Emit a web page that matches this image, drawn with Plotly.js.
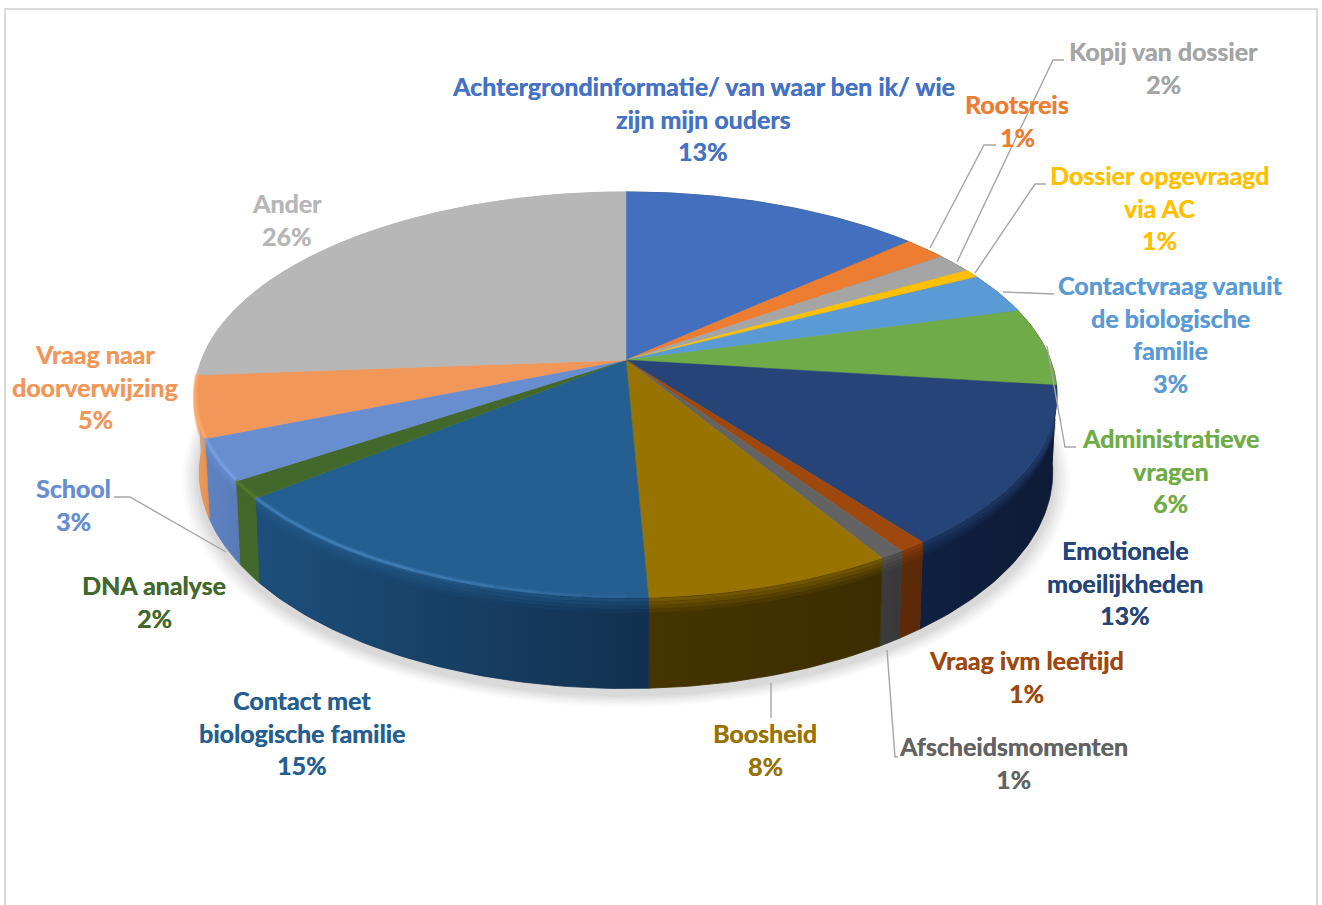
<!DOCTYPE html>
<html>
<head>
<meta charset="utf-8">
<script src="https://cdn.plot.ly/plotly-3.0.1.min.js"></script>
<style>html,body{margin:0;padding:0;background:#fff;overflow:hidden}#chart{width:1322px;height:905px}</style>
</head>
<body>
<div id="chart"></div>
<script>
// ---- data ----
const categories = ["Achtergrondinformatie/ van waar ben ik/ wie<br>zijn mijn ouders","Rootsreis","Kopij van dossier","Dossier opgevraagd<br>via AC","Contactvraag vanuit<br>de biologische<br>familie","Administratieve<br>vragen","Emotionele<br>moeilijkheden","Vraag ivm leeftijd","Afscheidsmomenten","Boosheid","Contact met<br>biologische familie","DNA analyse","School","Vraag naar<br>doorverwijzing","Ander"];
const printedPercent = [13,1,2,1,3,6,13,1,1,8,15,2,3,5,26];
const sliceShare = [13.3,1.9,1.6,0.7,3.3,6.2,12.7,0.9,0.8,7.9,14.9,1.4,3.3,4.9,26.2];
// ---- styles ----
const topColors = ["#4270bf","#ed7d31","#a5a5a5","#ffc000","#5b9bd5","#6fab46","#264478","#9e480e","#636363","#997300","#255e91","#43682b","#698ed0","#f1975a","#b7b7b7"];
const textColors = ["#4472c4","#ed7d31","#a5a5a5","#ffc000","#5b9bd5","#70ad47","#264478","#9e480e","#636363","#997300","#255e91","#43682b","#698ed0","#f1975a","#b7b7b7"];
const sideLeft = ["#2c4b80","#9e5320","#6e6e6e","#aa8000","#3d6a90","#4a7530","#0f2042","#5e2a07","#3c3c3c","#463500","#1c4f7c","#43682b","#5f82c2","#f0a266","#b0b0b0"];
const sideRight = ["#2c4b80","#9e5320","#6e6e6e","#aa8000","#3d6a90","#3a5c26","#0e1b35","#5a2807","#383838","#3c2d00","#12304f","#43682b","#587bb8","#e28e50","#b0b0b0"];
const rimGlow = ["#5a86d0","#f59a55","#c0c0c0","#ffd040","#7ab0e0","#8bc060","#3a5a95","#b85a18","#787878","#a87f00","#4a8ac5","#55802f","#7ca5e8","#ffae6e","#cccccc"];
const labelX = [703,1017,1163,1159,1170,1170,1125,1026,1013,765,302,154,73,95,287];
const labelTopY = [86,104,51,175,285,438,550,660,746,733,700,585,488,354,203];
const lineGap = 32.6;
const leaders = [[[930,248],[984,145],[996,145]],[[957,262],[1053,60],[1064,60]],[[975,273],[1035,184],[1046,184]],[[1003,292],[1054,294]],[[1047,346],[1065,447],[1076,447]],[[226,552],[130,497],[114,497]],[[771,683],[771,718]],[[887,650],[895,757],[898,757]]];

// ---- tilted-disc projection onto the pixel-like axes ----
const CX=626,CY=360,R=424.6,H=197,K=0.172,D=75;
function proj(deg,depth,scale){
  const a=deg*Math.PI/180,u=Math.sin(a)*(scale||1),v=-Math.cos(a)*(scale||1),w=1-K*v;
  const s=depth>12?0.99:1;
  return [CX+R*s*u/w, CY+(H*v+(depth||0))/w];
}
const total=sliceShare.reduce((a,b)=>a+b,0);
const bounds=[0];sliceShare.forEach(v=>bounds.push(bounds[bounds.length-1]+v/total*360));
function arc(a0,a1,depth,scale){
  const n=Math.max(2,Math.ceil(Math.abs(a1-a0))),p=[];
  for(let i=0;i<=n;i++)p.push(proj(a0+(a1-a0)*i/n,depth,scale));
  return p;
}
const base={type:'scatter',mode:'lines',hoverinfo:'skip',showlegend:false};
function poly(pts,extra){return Object.assign({},base,{x:pts.map(p=>p[0]),y:pts.map(p=>p[1]),fill:'toself',line:{width:0}},extra);}
function path(pts,color,width,opacity){return Object.assign({},base,{x:pts.map(p=>p[0]),y:pts.map(p=>p[1]),opacity:opacity,line:{color:color,width:width}});}

const traces=[];
// soft drop shadow
[[1.04,.014],[1.034,.018],[1.028,.022],[1.021,.026],[1.014,.03],[1.007,.035]].forEach(s=>{
  traces.push(poly(arc(0,360,D+5,s[0]),{fillcolor:'rgba(0,0,0,'+s[1]+')'}));
});
// side wall
categories.forEach((c,i)=>{
  const pts=arc(bounds[i],bounds[i+1],0).concat(arc(bounds[i+1],bounds[i],D));
  pts.push(pts[0]);
  traces.push(poly(pts,{name:c,fillcolor:sideLeft[i],line:{width:0.8,color:sideRight[i]},
    fillgradient:{type:'horizontal',colorscale:[[0,sideLeft[i]],[1,sideRight[i]]]}}));
});
// soft band where the wall meets the top
categories.forEach((c,i)=>{
  const a0=Math.max(bounds[i],106),a1=Math.min(bounds[i+1],268);
  if(a1<=a0)return;
  [[2,.55],[5,.4],[8,.25],[11,.12]].forEach(b=>traces.push(path(arc(a0,a1,b[0]),topColors[i],3.4,b[1])));
});
// top face
categories.forEach((c,i)=>{
  const pts=[[CX,CY]].concat(arc(bounds[i],bounds[i+1],0));pts.push([CX,CY]);
  traces.push(poly(pts,{name:c,fillcolor:topColors[i],line:{width:0.5,color:topColors[i]}}));
});
// bevel highlight on the lit part of the rim, fading towards the front
categories.forEach((c,i)=>{
  const start=Math.max(bounds[i],180),end=Math.min(bounds[i+1],266);
  for(let a=start;a<end;a+=5){
    const b=Math.min(a+5,end),fade=Math.min(1,(b-180)/30);
    traces.push(path(arc(a,b,-1),rimGlow[i],5,.3*fade));
    traces.push(path(arc(a,b,-1),rimGlow[i],2.4,.55*fade));
  }
});

const annotations=[];
categories.forEach((c,i)=>{
  const lines=c.split('<br>').concat([printedPercent[i]+'%']);
  lines.forEach((t,j)=>annotations.push({x:labelX[i],y:labelTopY[i]+j*lineGap,xref:'x',yref:'y',text:t,showarrow:false,
    xanchor:'center',yanchor:'middle',font:{family:'Lato, sans-serif',size:25,color:textColors[i],weight:700,shadow:'0.3px 0 0 '+textColors[i]}}));
});
const shapes=[{type:'rect',xref:'x',yref:'y',x0:5,x1:1317,y0:9,y1:930,line:{color:'#d9d9d9',width:2},fillcolor:'rgba(0,0,0,0)',layer:'below'}];
leaders.forEach(l=>shapes.push({type:'path',xref:'x',yref:'y',path:'M'+l.map(p=>p.join(' ')).join('L'),line:{color:'#a6a6a6',width:1.4}}));

Plotly.newPlot('chart',traces,{
  width:1322,height:905,margin:{l:0,r:0,t:0,b:0},paper_bgcolor:'#fff',plot_bgcolor:'#fff',showlegend:false,
  xaxis:{range:[0,1322],visible:false,fixedrange:true},
  yaxis:{range:[905,0],visible:false,fixedrange:true},
  annotations:annotations,shapes:shapes,hovermode:false
},{displayModeBar:false,staticPlot:true});
</script>
</body>
</html>
